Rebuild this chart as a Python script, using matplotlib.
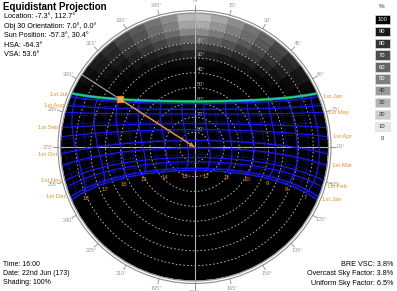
import numpy as np
import matplotlib
matplotlib.use("Agg")
import matplotlib.pyplot as plt
from matplotlib.patches import Circle, Wedge, Rectangle
from matplotlib.colors import LinearSegmentedColormap

plt.rcParams["font.family"] = ["Liberation Sans", "DejaVu Sans"]

# site / projection
LAT = -7.3
LON = 112.7
STD_MERIDIAN = 120.0
CX, CY, R = 194.5, 147.0, 133.5
S = R / 90.0

# sun-path dates in year order: declination (deg) and equation of time (min)
DATES = ["1 Jan", "15 Jan", "1 Feb", "15 Feb", "1 Mar", "15 Mar", "1 Apr", "15 Apr",
         "1 May", "15 May", "1 Jun", "15 Jun", "22 Jun", "1 Jul", "15 Jul", "1 Aug",
         "15 Aug", "1 Sep", "15 Sep", "1 Oct", "15 Oct", "1 Nov", "15 Nov", "1 Dec",
         "15 Dec", "22 Dec"]
DECL = [-23.0, -21.2, -17.2, -12.6, -7.8, -2.4, 4.4, 9.7,
        15.0, 18.8, 22.0, 23.3, 23.44, 23.1, 21.5, 18.0,
        13.8, 8.4, 3.1, -3.0, -8.5, -14.4, -18.5, -21.8,
        -23.3, -23.44]
EOT = [-3.2, -9.1, -13.5, -14.2, -12.4, -9.0, -4.1, 0.0,
       2.9, 3.7, 2.3, -0.3, -1.8, -3.8, -6.0, -6.3,
       -4.5, -0.1, 4.7, 10.2, 14.1, 16.4, 15.4, 11.0,
       4.8, 1.5]

# hour lines run from the December to the June solstice
HOUR_PATH = ["22 Dec", "1 Jan", "15 Jan", "1 Feb", "15 Feb", "1 Mar", "15 Mar", "1 Apr",
             "15 Apr", "1 May", "15 May", "1 Jun", "15 Jun", "22 Jun"]
HOUR_LABELS = [7, 8, 9, 10, 11, 12, 13, 14, 15, 16, 17, 18]
HALF_HOURS = [6.5, 7.5, 8.5, 9.5, 10.5, 11.5, 12.5, 13.5, 14.5, 15.5, 16.5, 17.5, 18.5]

CURRENT_DATE = "22 Jun"
CURRENT_TIME = 16.0

# sky shading (%), rows = altitude bands 0-5 .. 35-40, cols = azimuth bands of 7.5 deg
SHADE_AZ_EDGES = [-67.5, -60, -52.5, -45, -37.5, -30, -22.5, -15, -7.5, 0,
                  7.5, 15, 22.5, 30, 37.5, 45, 52.5, 60, 67.5]
SHADE_ALT_EDGES = [0, 5, 10, 15, 20, 25, 30, 35, 40]
SHADE = [
    [97, 93, 88, 82, 72, 65, 55, 45, 28, 26, 35, 45, 55, 62, 72, 82, 90, 96],
    [98, 95, 90, 85, 76, 68, 58, 50, 36, 34, 42, 50, 58, 66, 76, 85, 92, 97],
    [100, 97, 93, 88, 80, 73, 65, 58, 48, 46, 52, 58, 65, 72, 80, 88, 95, 99],
    [100, 99, 96, 92, 86, 80, 74, 68, 62, 60, 63, 68, 74, 78, 86, 92, 97, 100],
    [100, 100, 98, 96, 92, 88, 84, 80, 76, 75, 77, 80, 84, 87, 92, 96, 99, 100],
    [100, 100, 100, 98, 96, 94, 91, 89, 87, 87, 88, 90, 92, 94, 97, 99, 100, 100],
    [100, 100, 100, 100, 99, 98, 97, 96, 95, 95, 96, 97, 98, 99, 100, 100, 100, 100],
    [100, 100, 100, 100, 100, 100, 99, 99, 98, 98, 99, 99, 100, 100, 100, 100, 100, 100],
]

LEGEND_LEVELS = [100, 90, 80, 70, 60, 50, 40, 30, 20, 10, 0]

INFO_LINES = ["Location: -7.3°, 112.7°", "Obj 30 Orientation: 7.0°, 0.0°",
              "Sun Position: -57.3°, 30.4°", "HSA: -64.3°", "VSA: 53.6°"]
TIME_LINES = ["Time: 16:00", "Date: 22nd Jun (173)", "Shading: 100%"]
FACTOR_LINES = ["BRE VSC: 3.8%", "Overcast Sky Factor: 3.8%", "Uniform Sky Factor: 6.5%"]

ORANGE = "#e3922a"
BLUE = "#1c1cff"
GREY = "#8c8c8c"


def project(alt, az):
    r = (90.0 - np.asarray(alt)) * S
    a = np.radians(az)
    return CX + r * np.sin(a), CY - r * np.cos(a)


def sun(decl, eot, clock):
    solar = np.asarray(clock) + (4.0 * (LON - STD_MERIDIAN) + eot) / 60.0
    ha = np.radians(15.0 * (solar - 12.0))
    d, p = np.radians(decl), np.radians(LAT)
    east = -np.cos(d) * np.sin(ha)
    north = np.cos(p) * np.sin(d) - np.sin(p) * np.cos(d) * np.cos(ha)
    up = np.sin(p) * np.sin(d) + np.cos(p) * np.cos(d) * np.cos(ha)
    alt = np.degrees(np.arcsin(np.clip(up, -1, 1)))
    az = np.degrees(np.arctan2(east, north))
    return alt, az


fig = plt.figure(figsize=(3.97, 2.91), dpi=100)
ax = fig.add_axes([0, 0, 1, 1])
ax.set_xlim(0, 397)
ax.set_ylim(291, 0)
ax.axis("off")

clip = Circle((CX, CY), R, transform=ax.transData)
ax.add_patch(Circle((CX, CY), R, facecolor="black", edgecolor="none", zorder=1))

# sky shading cells
cmap = LinearSegmentedColormap.from_list("shade", ["white", "black"])
for i in range(len(SHADE_ALT_EDGES) - 1):
    for j in range(len(SHADE_AZ_EDGES) - 1):
        r_out = (90 - SHADE_ALT_EDGES[i]) * S
        w = (SHADE_ALT_EDGES[i + 1] - SHADE_ALT_EDGES[i]) * S
        c = cmap(SHADE[i][j] / 100.0)
        ax.add_patch(Wedge((CX, CY), r_out, SHADE_AZ_EDGES[j] - 90, SHADE_AZ_EDGES[j + 1] - 90,
                           width=w, facecolor=c, edgecolor=c, lw=0.3, zorder=2))

# altitude rings + labels
for alt in range(10, 90, 10):
    ax.add_patch(Circle((CX, CY), (90 - alt) * S, fill=False, edgecolor="#c4c4c4",
                        lw=0.6, linestyle=(0, (2, 2.5)), zorder=3))
    ax.text(CX + 2, CY - (90 - alt) * S - 0.5, f"{alt}°", fontsize=4.0, color="#b8b8b8",
            ha="left", va="bottom", zorder=3)

# cross hairs
ax.plot([CX, CX], [CY - R - 6, CY + R + 8], color="#b4b4b4", lw=0.8, zorder=3)
ax.plot([CX - R - 6, CX + R + 6], [CY, CY], color="#b4b4b4", lw=0.8, zorder=3)

# outer double ring
ax.add_patch(Circle((CX, CY), R + 0.5, fill=False, edgecolor=GREY, lw=0.8, zorder=4))
ax.add_patch(Circle((CX, CY), R + 3.0, fill=False, edgecolor=GREY, lw=0.8, zorder=4))

# azimuth ticks and labels
for az in range(0, 360, 15):
    x0, y0 = project(-3 / S, az)
    x1, y1 = project(-8 / S, az)
    ax.plot([x0, x1], [y0, y1], color=GREY, lw=0.6, zorder=4)
    lx, ly = project(-12.5 / S, az)
    ax.text(lx, ly, "N" if az == 0 else f"{az}°", fontsize=4.0, color="#999999",
            ha="center", va="center", zorder=4)

# date lines
clock = np.linspace(3, 21, 500)
for name, d, e in zip(DATES, DECL, EOT):
    if name.startswith("22"):
        continue
    alt, az = sun(d, e, clock)
    x, y = project(alt, az)
    solid = name.startswith("1 ")
    ln, = ax.plot(x, y, color=BLUE, lw=0.8 if solid else 0.6,
                  ls="-" if solid else (0, (1.2, 1.6)), zorder=5)
    ln.set_clip_path(clip)

# hour lines
idx = [DATES.index(n) for n in HOUR_PATH]
path_decl = np.array([DECL[i] for i in idx])
path_eot = np.array([EOT[i] for i in idx])
for h in [6.0] + HOUR_LABELS + HALF_HOURS:
    alt, az = sun(path_decl, path_eot, h)
    x, y = project(alt, az)
    whole = float(h).is_integer()
    ln, = ax.plot(x, y, color=BLUE, lw=0.8 if whole else 0.6,
                  ls="-" if whole else (0, (1.2, 1.6)), zorder=5)
    ln.set_clip_path(clip)

# hour labels below the lowest path
i_low = int(np.argmin(DECL))
for h in HOUR_LABELS:
    alt, az = sun(DECL[i_low], EOT[i_low], h)
    x, y = project(alt, az)
    ax.text(x + 2, y + 5, str(h), fontsize=4.4, color=ORANGE, ha="center", va="center", zorder=6)

# month labels at sunrise / sunset points
for name, d in zip(DATES, DECL):
    if not name.startswith("1 "):
        continue
    mon = name.split()[1]
    a = np.degrees(np.arccos(np.sin(np.radians(d)) / np.cos(np.radians(LAT))))
    if mon in ["Jul", "Aug", "Sep", "Oct", "Nov", "Dec"]:
        x, y = project(0, -a)
        ax.text(x - 4, y, f"1st {mon}", fontsize=4.3, color=ORANGE, ha="right", va="center", zorder=6)
    else:
        x, y = project(0, a)
        ax.text(x + 5, y, f"1st {mon}", fontsize=4.3, color=ORANGE, ha="left", va="center", zorder=6)

# current day path
k = DATES.index(CURRENT_DATE)
alt, az = sun(DECL[k], EOT[k], clock)
x, y = project(alt, az)
ln1, = ax.plot(x, y, color="#12a020", lw=2.0, zorder=6)
ln2, = ax.plot(x, y, color="#25c4cc", lw=1.1, zorder=6)
ln1.set_clip_path(clip)
ln2.set_clip_path(clip)

# sun position
s_alt, s_az = sun(DECL[k], EOT[k], CURRENT_TIME)
sx, sy = project(s_alt, s_az)
ex, ey = project(0, s_az)
ax.plot([CX, ex], [CY, ey], color="#a8a8a8", lw=0.8, zorder=6)
ax.annotate("", xy=(CX, CY), xytext=(sx, sy), zorder=7,
            arrowprops=dict(arrowstyle="-|>", color="#d98a2c", lw=1.0, mutation_scale=6,
                            shrinkA=0, shrinkB=0))
ax.plot(sx, sy, marker="s", ms=4.5, mfc="#f4a07a", mec="#e38a20", mew=0.8, zorder=8)

# legend
ax.text(382, 6, "%", fontsize=4.5, color="#333333", ha="center", va="center")
for i, p in enumerate(LEGEND_LEVELS):
    yc = 19.3 + i * 11.93
    c = cmap(p / 100.0)
    if p > 0:
        ax.add_patch(Rectangle((374.5, yc - 4.6), 15.5, 9.2, facecolor=c, edgecolor="#dddddd", lw=0.5))
    ax.text(382.2, yc, str(p), fontsize=4.2, color="white" if p >= 50 else "#333333",
            ha="center", va="center")

# text blocks
ax.text(3, 6.5, "Equidistant Projection", fontsize=7.0, fontweight="bold", ha="left", va="center")
for i, t in enumerate(INFO_LINES):
    ax.text(4, 17 + i * 9.5, t, fontsize=5.2, ha="left", va="center")
for i, t in enumerate(TIME_LINES):
    ax.text(3, 264 + i * 9.5, t, fontsize=5.0, ha="left", va="center")
for i, t in enumerate(FACTOR_LINES):
    ax.text(393, 264.5 + i * 9.3, t, fontsize=5.2, ha="right", va="center")

fig.savefig("out.png", dpi=100)
